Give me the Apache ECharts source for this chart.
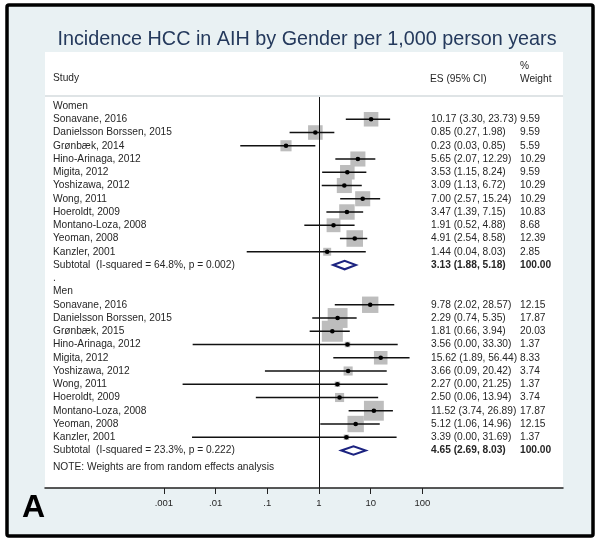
<!DOCTYPE html>
<html>
<head>
<meta charset="utf-8">
<script src="https://cdn.jsdelivr.net/npm/echarts@6/dist/echarts.min.js"></script>
<style>
html,body{margin:0;padding:0;background:#fff;}
#chart{width:601px;height:543px;}
</style>
</head>
<body>
<div id="chart"></div>
<script>
// ---- Data ----
const titleText = 'Incidence HCC in AIH by Gender per 1,000 person years';
const womenStudies = ['Sonavane, 2016','Danielsson Borssen, 2015','Grønbæk, 2014','Hino-Arinaga, 2012','Migita, 2012','Yoshizawa, 2012','Wong, 2011','Hoeroldt, 2009','Montano-Loza, 2008','Yeoman, 2008','Kanzler, 2001'];
const womenES = [10.17,0.85,0.23,5.65,3.53,3.09,7.00,3.47,1.91,4.91,1.44];
const womenLo = [3.30,0.27,0.03,2.07,1.15,1.13,2.57,1.39,0.52,2.54,0.04];
const womenHi = [23.73,1.98,0.85,12.29,8.24,6.72,15.24,7.15,4.88,8.58,8.03];
const womenWt = [9.59,9.59,5.59,10.29,9.59,10.29,10.29,10.83,8.68,12.39,2.85];
const womenSubtotalLabel = 'Subtotal  (I-squared = 64.8%, p = 0.002)';
const womenSubtotal = [3.13,1.88,5.18,100.00]; // ES, lo, hi, weight

const menStudies = ['Sonavane, 2016','Danielsson Borssen, 2015','Grønbæk, 2015','Hino-Arinaga, 2012','Migita, 2012','Yoshizawa, 2012','Wong, 2011','Hoeroldt, 2009','Montano-Loza, 2008','Yeoman, 2008','Kanzler, 2001'];
const menES = [9.78,2.29,1.81,3.56,15.62,3.66,2.27,2.50,11.52,5.12,3.39];
const menLo = [2.02,0.74,0.66,0.0036,1.89,0.09,0.0023,0.06,3.74,1.06,0.0035];
const menHi = [28.57,5.35,3.94,33.30,56.44,20.42,21.25,13.94,26.89,14.96,31.69];
const menWt = [12.15,17.87,20.03,1.37,8.33,3.74,1.37,3.74,17.87,12.15,1.37];
const menSubtotalLabel = 'Subtotal  (I-squared = 23.3%, p = 0.222)';
const menSubtotal = [4.65,2.69,8.03,100.00];

const noteText = 'NOTE: Weights are from random effects analysis';
const tickValues = [0.001,0.01,0.1,1,10,100];
const tickLabels = ['.001','.01','.1','1','10','100'];

// ---- Build rows ----
const rows = [];
function addGroup(name, studies, es, lo, hi, wt, subLabel, sub){
  rows.push({label:name, kind:'label'});
  studies.forEach((s,i)=>rows.push({label:s, kind:'study', es:es[i], lo:lo[i], hi:hi[i], wt:wt[i]}));
  rows.push({label:subLabel, kind:'sub', es:sub[0], lo:sub[1], hi:sub[2], wt:sub[3]});
}
addGroup('Women', womenStudies, womenES, womenLo, womenHi, womenWt, womenSubtotalLabel, womenSubtotal);
rows.push({label:'.', kind:'label'});
addGroup('Men', menStudies, menES, menLo, menHi, menWt, menSubtotalLabel, menSubtotal);
rows.forEach((r,i)=>r.row=i);
rows.push({label:noteText, kind:'label', row:27.25});

const FONT = '"Liberation Sans", Arial, Helvetica, sans-serif';
const TXT = '#262626';
const fmt = v => v.toFixed(2);

const chart = echarts.init(document.getElementById('chart'), null, {renderer:'canvas'});
const L = Math.log10;

const option = {
  backgroundColor:'#ffffff',
  animation:false,
  title:{
    text:titleText, left:302, textAlign:'center', top:25,
    textStyle:{fontFamily:FONT, fontSize:19.8, fontWeight:'normal', color:'#24395c'}
  },
  graphic:{elements:[
    {type:'rect', z:-10, shape:{x:7,y:5,width:586,height:531,r:2}, style:{fill:'#e9f1f3', stroke:'#000', lineWidth:3.5}},
    {type:'rect', z:-9, shape:{x:45,y:52,width:518,height:43}, style:{fill:'#ffffff'}},
    {type:'rect', z:-9, shape:{x:45,y:95,width:518,height:2}, style:{fill:'#dfe4e6'}},
    {type:'rect', z:-9, shape:{x:45,y:97,width:518,height:391}, style:{fill:'#ffffff'}},
    {type:'text', z:5, x:53, y:83, style:{text:'Study', fontFamily:FONT, fontSize:10.2, fill:TXT, textVerticalAlign:'bottom'}},
    {type:'text', z:5, x:430, y:84, style:{text:'ES (95% CI)', fontFamily:FONT, fontSize:10.2, fill:TXT, textVerticalAlign:'bottom'}},
    {type:'text', z:5, x:520, y:71, style:{text:'%', fontFamily:FONT, fontSize:10.2, fill:TXT, textVerticalAlign:'bottom'}},
    {type:'text', z:5, x:520, y:84, style:{text:'Weight', fontFamily:FONT, fontSize:10.2, fill:TXT, textVerticalAlign:'bottom'}},
    {type:'text', z:5, x:22, y:524, style:{text:'A', fontFamily:FONT, fontSize:32, fontWeight:'bold', fill:'#000', textVerticalAlign:'bottom'}}
  ]},
  grid:{left:45, right:38, top:97, bottom:55},
  xAxis:{
    type:'value', min:(45-319)/51.7, max:(563-319)/51.7, z:5,
    axisLine:{show:true, onZero:false, lineStyle:{color:'#222', width:1.5}},
    axisTick:{show:true, inside:false, length:6, customValues:tickValues.map(L), lineStyle:{color:'#222', width:1}},
    axisLabel:{show:true, margin:10, customValues:tickValues.map(L), fontFamily:FONT, fontSize:9.5, color:TXT,
      formatter:v=>{const i = tickValues.findIndex(t=>Math.abs(L(t)-v)<1e-6); return i>=0?tickLabels[i]:'';}},
    splitLine:{show:false}
  },
  yAxis:{type:'value', inverse:true, min:-0.68, max:28.83, show:false},
  series:[{
    type:'custom',
    clip:false,
    z:3,
    data:rows.map(r=>[r.row]),
    encode:{y:0},
    renderItem:(params, api)=>{
      const r = rows[params.dataIndex];
      const y = api.coord([0, r.row])[1];
      const ch = [];
      ch.push({type:'text', x:53, y:y, style:{text:r.label, fontFamily:FONT, fontSize:10.2, fill:TXT, textVerticalAlign:'middle'}});
      if(r.kind==='study'){
        const xe = api.coord([L(r.es), r.row])[0];
        const x0 = api.coord([L(r.lo), r.row])[0];
        const x1 = api.coord([L(r.hi), r.row])[0];
        const s = 4.7*Math.sqrt(r.wt);
        ch.push({type:'rect', shape:{x:xe-s/2, y:y-s/2, width:s, height:s}, style:{fill:'#bdbdbd'}});
        ch.push({type:'line', shape:{x1:x0, y1:y, x2:x1, y2:y}, style:{stroke:'#111', lineWidth:1.5}});
        ch.push({type:'circle', shape:{cx:xe, cy:y, r:2.3}, style:{fill:'#000'}});
      }
      if(r.kind==='sub'){
        const xe = api.coord([L(r.es), r.row])[0];
        const x0 = api.coord([L(r.lo), r.row])[0];
        const x1 = api.coord([L(r.hi), r.row])[0];
        ch.push({type:'polygon', shape:{points:[[x0,y],[xe,y-4.3],[x1,y],[xe,y+4.3]]}, style:{fill:'#fff', stroke:'#1c2380', lineWidth:2}});
      }
      if(r.kind==='study' || r.kind==='sub'){
        const bold = r.kind==='sub' ? 'bold' : 'normal';
        ch.push({type:'text', x:431, y:y, style:{text:fmt(r.es)+' ('+fmt(r.lo)+', '+fmt(r.hi)+')', fontFamily:FONT, fontSize:10.2, fontWeight:bold, fill:TXT, textVerticalAlign:'middle'}});
        ch.push({type:'text', x:520, y:y, style:{text:fmt(r.wt), fontFamily:FONT, fontSize:10.2, fontWeight:bold, fill:TXT, textVerticalAlign:'middle'}});
      }
      return {type:'group', children:ch};
    }
  },{
    type:'line', data:[], z:4,
    markLine:{silent:true, symbol:'none', label:{show:false}, lineStyle:{color:'#111', width:1, type:'solid'},
      data:[{xAxis:0}]}
  }]
};
chart.setOption(option);
</script>
</body>
</html>
